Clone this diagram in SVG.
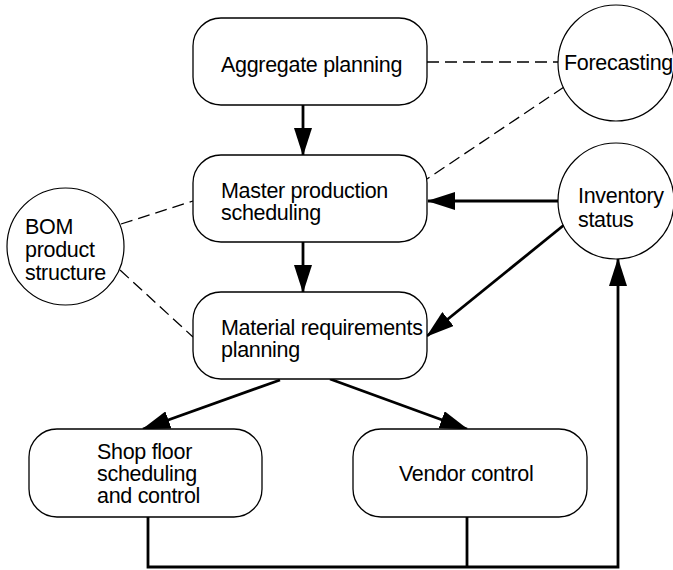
<svg xmlns="http://www.w3.org/2000/svg" width="673" height="570" viewBox="0 0 673 570">
<style>
  .box { fill: #fff; stroke: #000; stroke-width: 1.3; }
  .circ { fill: #fff; stroke: #000; stroke-width: 1.2; }
  .lbl { font-family: "Liberation Sans", Arial, sans-serif; font-size: 21.5px; fill: #000; letter-spacing: -0.3px; }
  .arrow { fill: none; stroke: #000; stroke-width: 2.8; }
  .dash { fill: none; stroke: #000; stroke-width: 1.3; stroke-dasharray: 12 6; }
</style>
<defs>
  <marker id="ah" markerUnits="userSpaceOnUse" markerWidth="28" markerHeight="18" viewBox="0 0 28 18" refX="27" refY="9" orient="auto">
    <path d="M0,0 L28,9 L0,18 z" fill="#000"/>
  </marker>
</defs>
<g id="connectors">
  <line class="dash" x1="427" y1="62" x2="559" y2="62"/>
  <line class="dash" x1="564" y1="87" x2="427" y2="179"/>
  <line class="dash" x1="121" y1="224" x2="193" y2="201"/>
  <line class="dash" x1="120" y1="270" x2="193" y2="337"/>
  <line class="arrow" x1="303" y1="105" x2="303" y2="155" marker-end="url(#ah)"/>
  <line class="arrow" x1="303" y1="242" x2="303" y2="292" marker-end="url(#ah)"/>
  <line class="arrow" x1="559" y1="201" x2="428" y2="201" marker-end="url(#ah)"/>
  <line class="arrow" x1="564" y1="225" x2="427" y2="336" marker-end="url(#ah)"/>
  <line class="arrow" x1="280" y1="380" x2="143" y2="429" marker-end="url(#ah)"/>
  <line class="arrow" x1="330" y1="379" x2="467" y2="429" marker-end="url(#ah)"/>
  <polyline class="arrow" points="148,517 148,567 618,567 618,259" marker-end="url(#ah)"/>
  <line class="arrow" x1="467" y1="517" x2="467" y2="567"/>
</g>
<g id="aggregate">
  <rect class="box" x="193" y="18" width="234" height="87" rx="28" ry="28"/>
  <text class="lbl" x="221" y="72">Aggregate planning</text>
</g>
<g id="mps">
  <rect class="box" x="193" y="155" width="234" height="87" rx="28" ry="28"/>
  <text class="lbl" x="221" y="198">Master production</text>
  <text class="lbl" x="221" y="220">scheduling</text>
</g>
<g id="mrp">
  <rect class="box" x="193" y="292" width="234" height="87" rx="28" ry="28"/>
  <text class="lbl" x="221" y="335">Material requirements</text>
  <text class="lbl" x="221" y="357">planning</text>
</g>
<g id="shopfloor">
  <rect class="box" x="29" y="429" width="233" height="88" rx="28" ry="28"/>
  <text class="lbl" x="97" y="459">Shop floor</text>
  <text class="lbl" x="97" y="481">scheduling</text>
  <text class="lbl" x="97" y="503">and control</text>
</g>
<g id="vendor">
  <rect class="box" x="353" y="429" width="234" height="88" rx="28" ry="28"/>
  <text class="lbl" x="399" y="481">Vendor control</text>
</g>
<g id="forecasting">
  <circle class="circ" cx="616" cy="63" r="58"/>
  <text class="lbl" x="564" y="70">Forecasting</text>
</g>
<g id="inventory">
  <circle class="circ" cx="616" cy="201" r="58"/>
  <text class="lbl" x="578" y="203">Inventory</text>
  <text class="lbl" x="578" y="227">status</text>
</g>
<g id="bom">
  <circle class="circ" cx="65.5" cy="246.5" r="58.5"/>
  <text class="lbl" x="25" y="234">BOM</text>
  <text class="lbl" x="25" y="257">product</text>
  <text class="lbl" x="25" y="280">structure</text>
</g>
</svg>
